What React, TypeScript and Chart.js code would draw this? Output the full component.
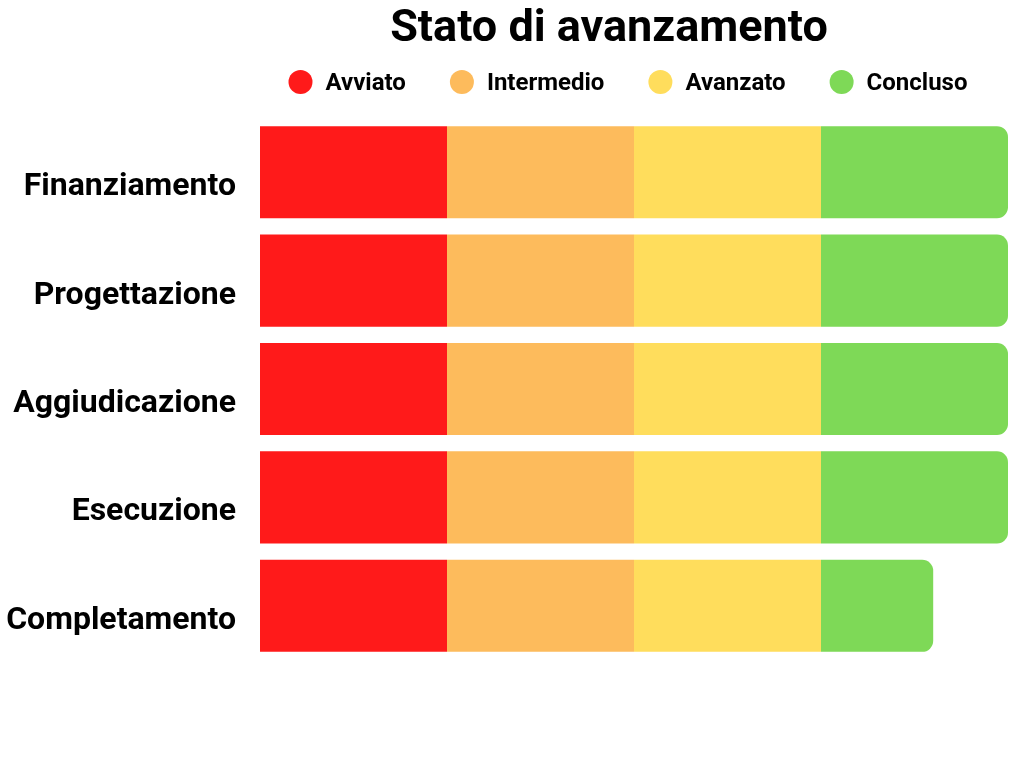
import React, { useEffect, useRef } from "react";
import { Chart, registerables } from "chart.js";

Chart.register(...registerables);

const TITLE = "Stato di avanzamento";
const categories = ["Finanziamento", "Progettazione", "Aggiudicazione", "Esecuzione", "Completamento"];
const seriesNames = ["Avviato", "Intermedio", "Avanzato", "Concluso"];
const avviato = [25, 25, 25, 25, 25];
const intermedio = [25, 25, 25, 25, 25];
const avanzato = [25, 25, 25, 25, 25];
const concluso = [25, 25, 25, 25, 15];
const colors = ["#FF1A1A", "#FDBB5C", "#FFDD5C", "#7ED957"];
const xMin = 0;
const xMax = 100;

const FONT = "Roboto";

const headerPlugin = {
  id: "header",
  afterDraw(chart: any) {
    const ctx = chart.ctx as CanvasRenderingContext2D;
    ctx.save();
    // title
    ctx.fillStyle = "#000";
    ctx.font = `bold 45px ${FONT}`;
    ctx.textAlign = "center";
    ctx.textBaseline = "middle";
    ctx.fillText(TITLE, 609, 30);
    // legend
    ctx.font = `bold 24px ${FONT}`;
    const r = 12;
    const gapText = 13;
    const gapItem = 44;
    const items = chart.data.datasets.map((ds: any) => ({
      label: ds.label,
      color: ds.backgroundColor,
      w: ctx.measureText(ds.label).width,
    }));
    let total = 0;
    items.forEach((it: any, i: number) => {
      total += 2 * r + gapText + it.w + (i < items.length - 1 ? gapItem : 0);
    });
    let x = 628 - total / 2;
    const y = 82;
    ctx.textAlign = "left";
    items.forEach((it: any) => {
      ctx.beginPath();
      ctx.fillStyle = it.color;
      ctx.arc(x + r, y, r, 0, Math.PI * 2);
      ctx.fill();
      ctx.fillStyle = "#000";
      ctx.fillText(it.label, x + 2 * r + gapText, y + 2);
      x += 2 * r + gapText + it.w + gapItem;
    });
    ctx.restore();
  },
};

export default function App() {
  const ref = useRef<HTMLCanvasElement | null>(null);
  useEffect(() => {
    if (!ref.current) return;
    const values = [avviato, intermedio, avanzato, concluso];
    const chart = new Chart(ref.current, {
      type: "bar",
      data: {
        labels: categories,
        datasets: seriesNames.map((name, i) => ({
          label: name,
          data: values[i],
          backgroundColor: colors[i],
          borderWidth: 0,
          borderRadius: i === seriesNames.length - 1 ? 11 : 0,
          categoryPercentage: 0.85,
          barPercentage: 1,
        })),
      },
      options: {
        indexAxis: "y",
        responsive: false,
        animation: false,
        layout: { padding: { top: 118, bottom: 108, right: 16, left: 0 } },
        plugins: {
          legend: { display: false },
          title: { display: false },
          tooltip: { enabled: false },
        },
        scales: {
          x: { stacked: true, min: xMin, max: xMax, display: false },
          y: {
            stacked: true,
            grid: { display: false, drawTicks: false },
            border: { display: false },
            afterFit: (s: any) => {
              s.width = 260;
            },
            ticks: {
              color: "#000",
              padding: 24,
              labelOffset: 15,
              font: { family: FONT, weight: "bold", size: 32 },
            },
          },
        },
      },
      plugins: [headerPlugin],
    } as any);
    return () => chart.destroy();
  }, []);
  return (
    <div style={{ position: "fixed", left: 0, top: 0, width: 1024, height: 768, background: "#fff" }}>
      <canvas ref={ref} width={1024} height={768} />
    </div>
  );
}
